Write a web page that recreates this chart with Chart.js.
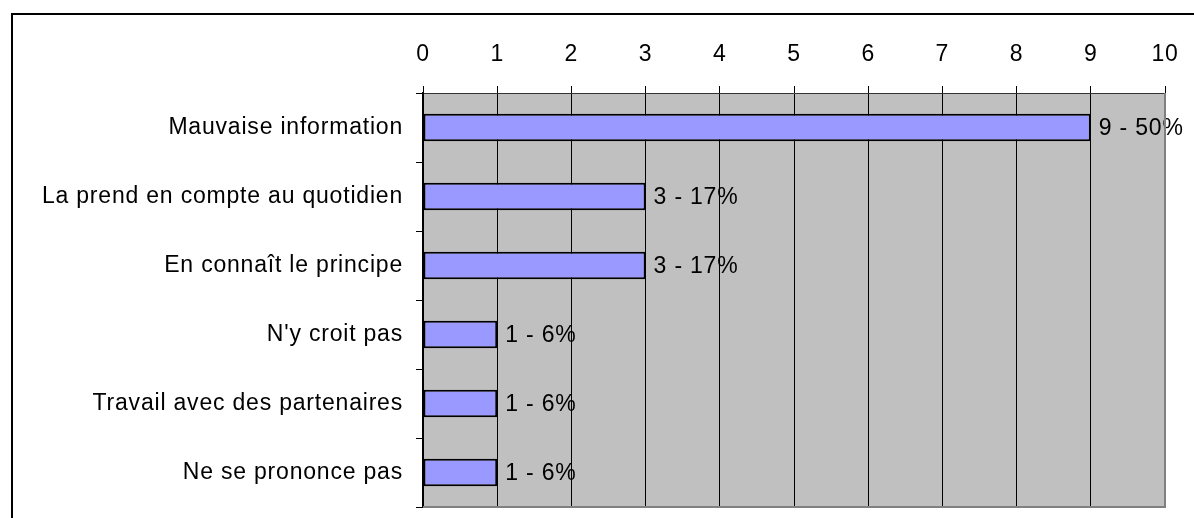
<!DOCTYPE html>
<html>
<head>
<meta charset="utf-8">
<script src="https://cdn.jsdelivr.net/npm/chart.js@4/dist/chart.umd.min.js"></script>
<style>
    html, body { margin: 0; padding: 0; background: #fff; }
    #wrap { position: relative; width: 1194px; height: 518px; overflow: hidden; }
    #frame {
        position: absolute; left: 11px; top: 13px; width: 1300px; height: 600px;
        border-left: 2px solid #000; border-top: 2px solid #000;
    }
    canvas { position: absolute; left: 0; top: 0; }
</style>
</head>
<body>
<div id="wrap">
    <div id="frame"></div>
    <canvas id="reponses" width="1194" height="518"></canvas>
</div>
<script>
let categories = [
    "Mauvaise information",
    "La prend en compte au quotidien",
    "En connaît le principe",
    "N'y croit pas",
    "Travail avec des partenaires",
    "Ne se prononce pas"
]
let counts = [9, 3, 3, 1, 1, 1]
let percents = [50, 17, 17, 6, 6, 6]
let xTicks = [0, 1, 2, 3, 4, 5, 6, 7, 8, 9, 10]

Chart.defaults.font.family = "'Liberation Sans', Arial, sans-serif";
Chart.defaults.font.size = 23;
Chart.defaults.color = '#000';

// grey plot background, plus the grey right/bottom edges of the plot
let plotArea = {
    id: 'plotArea',
    beforeDraw(chart) {
        let {ctx, chartArea: a} = chart;
        // slightly wider text, closer to the old GDI look
        ctx.letterSpacing = '0.8px';
        ctx.save();
        ctx.fillStyle = '#c0c0c0';
        ctx.fillRect(a.left, a.top, a.right - a.left, a.bottom - a.top);
        ctx.restore();
    },
    afterDraw(chart) {
        let {ctx, chartArea: a} = chart;
        ctx.save();
        ctx.strokeStyle = '#808080';
        ctx.lineWidth = 2;
        ctx.beginPath();
        ctx.moveTo(a.left, a.bottom);
        ctx.lineTo(a.right, a.bottom);
        ctx.lineTo(a.right, a.top);
        ctx.stroke();
        ctx.restore();
    }
}

// "n - p%" next to each bar
let barLabels = {
    id: 'barLabels',
    afterDatasetsDraw(chart) {
        let {ctx} = chart;
        let meta = chart.getDatasetMeta(0);
        ctx.save();
        ctx.font = "23px 'Liberation Sans', Arial, sans-serif";
        ctx.fillStyle = '#000';
        ctx.textAlign = 'left';
        ctx.textBaseline = 'middle';
        meta.data.forEach((bar, i) => {
            ctx.fillText(counts[i] + ' - ' + percents[i] + '%', bar.x + 8, bar.y + 1);
        });
        ctx.restore();
    }
}

let chart = new Chart(document.getElementById("reponses"), {
    type: 'bar',
    data: {
        labels: categories,
        datasets: [
            {
                data: counts,
                backgroundColor: '#9999ff',
                borderColor: '#000',
                borderWidth: 2,
                borderSkipped: false,
                categoryPercentage: 1,
                barPercentage: 0.4
            }
        ]
    },
    options: {
        indexAxis: 'y',
        responsive: false,
        animation: false,
        maintainAspectRatio: false,
        layout: {
            padding: {top: 0, right: 29, bottom: 11, left: 0}
        },
        scales: {
            x: {
                position: 'top',
                min: xTicks[0],
                max: xTicks[xTicks.length - 1],
                afterBuildTicks: (scale) => {
                    scale.ticks = xTicks.map(v => ({value: v}));
                },
                afterFit: (scale) => {
                    scale.height = 93;
                    scale.paddingLeft = 0;
                    scale.paddingRight = 0;
                },
                grid: {
                    color: '#000',
                    lineWidth: 1,
                    tickLength: 7,
                    tickColor: '#000'
                },
                border: {color: '#333', width: 1},
                ticks: {
                    padding: 18,
                    maxRotation: 0
                }
            },
            y: {
                afterFit: (scale) => {
                    scale.width = 423;
                    scale.paddingTop = 0;
                    scale.paddingBottom = 0;
                },
                grid: {
                    offset: true,
                    drawOnChartArea: false,
                    tickLength: 7,
                    tickColor: '#000'
                },
                border: {color: '#000', width: 2},
                ticks: {
                    padding: 13
                }
            }
        },
        plugins: {
            legend: {
                display: false
            },
            tooltip: {
                enabled: false
            }
        }
    },
    plugins: [plotArea, barLabels]
});
</script>
</body>
</html>
